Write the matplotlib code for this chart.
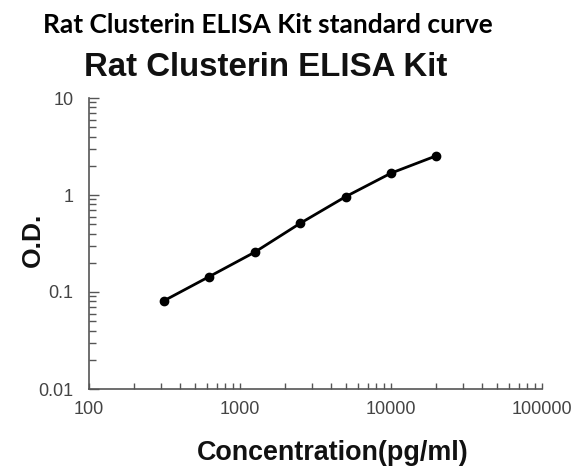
import numpy as np
import matplotlib
matplotlib.use("Agg")
import matplotlib.pyplot as plt
from matplotlib.ticker import LogLocator, NullFormatter, FixedLocator, FixedFormatter

plt.rcParams["font.family"] = ["Liberation Sans", "DejaVu Sans"]

# standard curve data
conc = [312.5, 625, 1250, 2500, 5000, 10000, 20000]
od = [0.081, 0.144, 0.257, 0.51, 0.96, 1.68, 2.54]

x_ticks = [100, 1000, 10000, 100000]
x_labels = ["100", "1000", "10000", "100000"]
y_ticks = [0.01, 0.1, 1, 10]
y_labels = ["0.01", "0.1", "1", "10"]

fig = plt.figure(figsize=(5.76, 4.71), dpi=100)
ax = fig.add_axes([89 / 576, 1 - 389 / 471, (542 - 89) / 576, (389 - 98) / 471])

ax.plot(conc, od, color="black", lw=2.0, marker="o", ms=6, solid_capstyle="round")

ax.set_xscale("log")
ax.set_yscale("log")
ax.set_xlim(100, 100000)
ax.set_ylim(0.01, 10)

ax.xaxis.set_major_locator(FixedLocator(x_ticks))
ax.xaxis.set_major_formatter(FixedFormatter(x_labels))
ax.yaxis.set_major_locator(FixedLocator(y_ticks))
ax.yaxis.set_major_formatter(FixedFormatter(y_labels))
ax.xaxis.set_minor_locator(LogLocator(base=10, subs=np.arange(2, 10)))
ax.yaxis.set_minor_locator(LogLocator(base=10, subs=np.arange(2, 10)))
ax.xaxis.set_minor_formatter(NullFormatter())
ax.yaxis.set_minor_formatter(NullFormatter())

for s in ["top", "right"]:
    ax.spines[s].set_visible(False)
for s in ["left", "bottom"]:
    ax.spines[s].set_color("#555555")
    ax.spines[s].set_linewidth(1.2)

ax.tick_params(axis="y", which="major", direction="in", length=7, width=1, color="#555555",
               pad=11, labelsize=13, labelcolor="#444444")
ax.tick_params(axis="y", which="minor", direction="in", length=5, width=1, color="#555555")
ax.tick_params(axis="x", which="both", direction="in", length=4, width=1, color="#555555",
               pad=9, labelsize=13, labelcolor="#444444")

fig.text(268 / 576, 1 - 25 / 471, "Rat Clusterin ELISA Kit standard curve", ha="center", va="center",
         fontsize=19, fontweight="bold", family="Lato")
fig.text(266 / 576, 1 - 68 / 471, "Rat Clusterin ELISA Kit", ha="center", va="center",
         fontsize=23.8, fontweight="bold", color="#111111")
fig.text(333 / 576, 1 - 453 / 471, "Concentration(pg/ml)", ha="center", va="center",
         fontsize=19.4, fontweight="bold", color="#111111")
fig.text(33 / 576, 1 - 240 / 471, "O.D.", ha="center", va="center", rotation=90,
         fontsize=19, fontweight="bold", color="#111111")

fig.savefig("out.png", dpi=100)
